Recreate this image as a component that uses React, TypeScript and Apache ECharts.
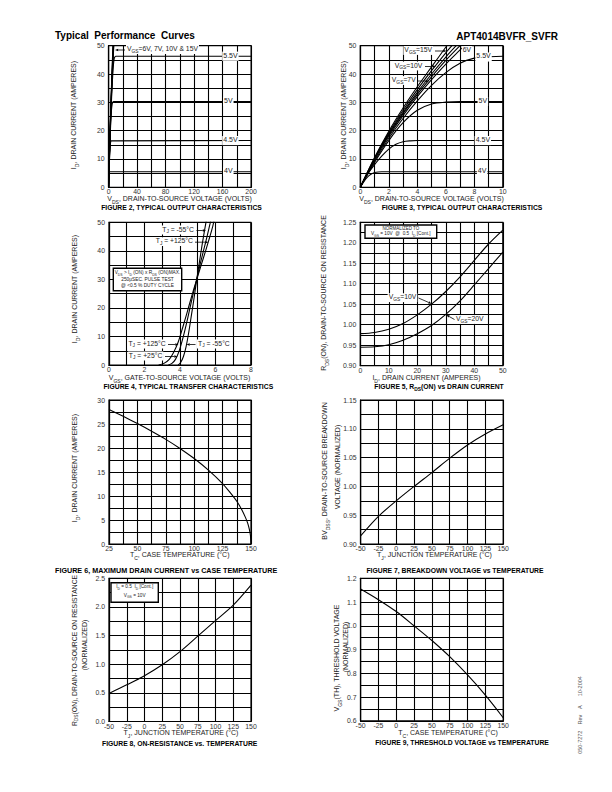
import React, { useEffect, useRef } from 'react';
import * as echarts from 'echarts';

const FONT = '"Liberation Sans", Arial, Helvetica, sans-serif';
const TXT = '#222';

// ---------- DATA ----------
// Fig 2 & 3 : output characteristics  [VDS (V), ID (A)]
const outVgs15 = [[0, 0], [1, 10.5], [2, 19.8], [3, 28], [4, 35.5], [5, 42.5], [6.07, 50]];
const outVgs10 = [[0, 0], [1, 10.3], [2, 19.3], [3, 27.2], [4, 34.5], [5, 41.2], [6, 47.5], [6.43, 50]];
const outVgs8 = [[0, 0], [1, 10.1], [2, 18.9], [3, 26.5], [4, 33.5], [5, 40], [6, 46], [6.73, 50]];
const outVgs7 = [[0, 0], [1, 10], [2, 18.5], [3, 26], [4, 32.8], [5, 39], [6, 44.8], [7, 50]];
const outVgs6 = [[0, 0], [1, 9.8], [2, 18], [3, 25.3], [4, 32], [5, 38], [6, 43.5], [7, 48.5], [7.3, 50]];
const outVgs55 = [[0, 0], [1, 9.3], [2, 17.3], [3, 24.3], [4, 30.5], [5, 36], [6, 40.5], [7, 43.8], [8, 45.6], [9, 46.1], [10, 46.3], [200, 46.3]];
const outVgs5 = [[0, 0], [1, 8.8], [2, 16.5], [3, 22.8], [4, 27.2], [5, 29.4], [6, 30.1], [7, 30.3], [200, 30.3]];
const outVgs45 = [[0, 0], [0.5, 4.5], [1, 8], [1.5, 11], [2, 13.5], [2.5, 15.2], [3, 16.1], [3.5, 16.4], [4, 16.5], [200, 16.5]];
const outVgs4 = [[0, 0], [0.25, 2], [0.5, 3.6], [0.75, 4.6], [1, 5.2], [1.5, 5.5], [200, 5.5]];

// Fig 4 : transfer characteristics [VGS (V), ID (A)]
const tjM55 = [[3.9, 0], [4.05, 1], [4.2, 3], [4.35, 6.5], [4.5, 11.5], [4.65, 17.5], [4.8, 23.5], [4.95, 30], [5.1, 36], [5.25, 42], [5.4, 47.5], [5.5, 51]];
const tj25 = [[3.35, 0], [3.55, 0.6], [3.75, 2], [3.95, 4.8], [4.15, 9], [4.35, 14], [4.55, 19.5], [4.75, 25], [4.95, 30], [5.15, 35.5], [5.35, 40.5], [5.55, 45.5], [5.7, 49.5], [5.75, 51]];
const tj125 = [[2.8, 0], [3.1, 0.6], [3.4, 2], [3.65, 4.5], [3.9, 8], [4.15, 13], [4.4, 18.3], [4.65, 23.8], [4.95, 30], [5.2, 35], [5.45, 40], [5.7, 45.2], [5.85, 48.5], [5.92, 50.5]];

// Fig 5 : RDS(on) vs ID
const rdsVgs10 = [[0, 0.978], [5, 0.981], [10, 0.989], [15, 1.003], [20, 1.024], [25, 1.05], [30, 1.081], [35, 1.117], [40, 1.157], [45, 1.197], [50, 1.231]];
const rdsVgs20 = [[0, 0.945], [5, 0.946], [10, 0.951], [15, 0.962], [20, 0.978], [25, 0.998], [30, 1.025], [35, 1.058], [40, 1.097], [45, 1.137], [50, 1.177]];

// Fig 6 : max drain current vs case temperature
const idMax = [[25, 28], [37.5, 26.6], [50, 25.1], [62.5, 23.5], [75, 21.8], [87.5, 19.9], [100, 17.8], [112.5, 15.4], [125, 12.6], [131, 10.9], [137.5, 8.9], [142, 7.1], [145, 5.6], [147, 4.4], [148.5, 3.1], [149.5, 1.8], [150, 0]];

// Fig 7 : breakdown voltage vs temperature
const bvdss = [[-50, 0.914], [-25, 0.948], [0, 0.975], [25, 1.0], [50, 1.024], [75, 1.049], [100, 1.072], [125, 1.091], [150, 1.107]];

// Fig 8 : on-resistance vs temperature
const rdsTemp = [[-50, 0.49], [-25, 0.64], [0, 0.8], [25, 0.99], [50, 1.22], [75, 1.49], [100, 1.76], [125, 2.03], [150, 2.38]];

// Fig 9 : threshold voltage vs temperature
const vthTemp = [[-50, 1.155], [-25, 1.11], [0, 1.06], [25, 1.0], [50, 0.938], [75, 0.87], [100, 0.793], [125, 0.708], [150, 0.613]];

// ---------- TICK LABELS ----------
const fig2XTicks = ['0', '40', '80', '120', '160', '200'];
const idYTicks = ['0', '10', '20', '30', '40', '50'];
const fig3XTicks = ['0', '2', '4', '6', '8', '10'];
const fig4XTicks = ['0', '2', '4', '6', '8'];
const fig5XTicks = ['0', '10', '20', '30', '40', '50'];
const fig5YTicks = ['0.90', '0.95', '1.00', '1.05', '1.10', '1.15', '1.20', '1.25'];
const fig6XTicks = ['25', '50', '75', '100', '125', '150'];
const fig6YTicks = ['0', '5', '10', '15', '20', '25', '30'];
const tempXTicks = ['-50', '-25', '0', '25', '50', '75', '100', '125', '150'];
const fig7YTicks = ['0.90', '0.95', '1.00', '1.05', '1.10', '1.15'];
const fig8YTicks = ['0.0', '0.5', '1.0', '1.5', '2.0', '2.5'];
const fig9YTicks = ['0.6', '0.7', '0.8', '0.9', '1.0', '1.1', '1.2'];

// ---------- LAYOUT ----------
const BOX = [
  { l: 108.6, t: 45.7, w: 142.5, h: 141.6 },
  { l: 360.3, t: 45.7, w: 142.5, h: 141.6 },
  { l: 109, t: 222.3, w: 141.8, h: 142.8 },
  { l: 360.3, t: 222.3, w: 142.5, h: 143.3 },
  { l: 109, t: 400, w: 142, h: 144 },
  { l: 360.6, t: 400, w: 142.6, h: 144 },
  { l: 109, t: 578.3, w: 142, h: 143.2 },
  { l: 360.6, t: 578.3, w: 142.6, h: 142.5 },
];
const AX = [
  { x0: 0, x1: 200, xi: 20, xt: fig2XTicks, y0: 0, y1: 50, yi: 5, yt: idYTicks },
  { x0: 0, x1: 10, xi: 1, xt: fig3XTicks, y0: 0, y1: 50, yi: 5, yt: idYTicks },
  { x0: 0, x1: 8, xi: 1, xt: fig4XTicks, y0: 0, y1: 50, yi: 5, yt: idYTicks },
  { x0: 0, x1: 50, xi: 5, xt: fig5XTicks, y0: 0.9, y1: 1.25, yi: 0.025, yt: fig5YTicks },
  { x0: 25, x1: 150, xi: 12.5, xt: fig6XTicks, y0: 0, y1: 30, yi: 2.5, yt: fig6YTicks },
  { x0: -50, x1: 150, xi: 25, xt: tempXTicks, y0: 0.9, y1: 1.15, yi: 0.025, yt: fig7YTicks },
  { x0: -50, x1: 150, xi: 25, xt: tempXTicks, y0: 0, y1: 2.5, yi: 0.25, yt: fig8YTicks },
  { x0: -50, x1: 150, xi: 25, xt: tempXTicks, y0: 0.6, y1: 1.2, yi: 0.05, yt: fig9YTicks },
];

const px = (g: number, x: number, y: number) => {
  const b = BOX[g];
  const a = AX[g];
  return [b.l + ((x - a.x0) / (a.x1 - a.x0)) * b.w, b.t + b.h - ((y - a.y0) / (a.y1 - a.y0)) * b.h];
};

const pick = (ticks: string[]) => (v: number) => {
  const f = ticks.find((t) => Math.abs(parseFloat(t) - v) < 1e-6);
  return f === undefined ? '' : f;
};

// ---------- TEXT HELPERS ----------
function toRich(s: string) {
  const parts = s.split(/_\{([^}]*)\}/);
  let out = '';
  parts.forEach((p, i) => {
    if (!p) return;
    out += i % 2 === 1 ? `{s|${p}}` : `{n|${p}}`;
  });
  return out;
}

type TOpt = { fs?: number; bold?: boolean; align?: string; va?: string; rot?: number; color?: string; bg?: string };
function T(x: number, y: number, s: string, o: TOpt = {}) {
  const fs = o.fs ?? 7;
  const color = o.color ?? TXT;
  const weight = o.bold ? 'bold' : 'normal';
  const style: any = {
    text: toRich(s),
    fill: color,
    fontSize: fs,
    fontFamily: FONT,
    fontWeight: weight,
    align: o.align ?? 'center',
    textAlign: o.align ?? 'center',
    verticalAlign: o.va ?? 'middle',
    textVerticalAlign: o.va ?? 'middle',
    rich: {
      n: { fontSize: fs, fontFamily: FONT, fontWeight: weight, fill: color, verticalAlign: 'top', lineHeight: fs * 1.3 },
      s: { fontSize: fs * 0.72, fontFamily: FONT, fontWeight: weight, fill: color, verticalAlign: 'bottom', lineHeight: fs * 0.5 },
    },
  };
  if (o.bg) {
    style.backgroundColor = o.bg;
    style.padding = [0, 1];
  }
  return { type: 'text', x, y, rotation: o.rot ?? 0, z: 100, style };
}

function arrow(x1: number, y1: number, x2: number, y2: number, size = 3.2) {
  const ang = Math.atan2(y2 - y1, x2 - x1);
  const bx = x2 - Math.cos(ang) * size;
  const by = y2 - Math.sin(ang) * size;
  const nx = -Math.sin(ang) * 1.3;
  const ny = Math.cos(ang) * 1.3;
  return [
    { type: 'line', z: 101, shape: { x1, y1, x2: bx, y2: by }, style: { stroke: '#000', lineWidth: 0.8 } },
    { type: 'polygon', z: 101, shape: { points: [[x2, y2], [bx + nx, by + ny], [bx - nx, by - ny]] }, style: { fill: '#000' } },
  ];
}

function box(x: number, y: number, w: number, h: number) {
  return { type: 'rect', z: 99, shape: { x, y, width: w, height: h }, style: { fill: '#fff', stroke: '#000', lineWidth: 1.4 } };
}

function buildOption() {
  const grid = BOX.map((b) => ({ left: b.l, top: b.t, width: b.w, height: b.h, show: true, borderColor: '#000', borderWidth: 1.2 }));
  const axisCommon = (g: number, isX: boolean) => {
    const a = AX[g];
    return {
      gridIndex: g,
      type: 'value',
      min: isX ? a.x0 : a.y0,
      max: isX ? a.x1 : a.y1,
      interval: isX ? a.xi : a.yi,
      axisLine: { show: true, onZero: false, lineStyle: { color: '#000', width: 1.2 } },
      axisTick: { show: false },
      splitLine: { show: true, lineStyle: { color: '#000', width: 1.1 } },
      axisLabel: {
        show: true,
        fontSize: 6.9,
        fontFamily: FONT,
        color: '#333',
        margin: isX ? 1 : 4,
        showMinLabel: true,
        showMaxLabel: true,
        hideOverlap: false,
        formatter: pick(isX ? a.xt : a.yt),
      },
    };
  };
  const xAxis = BOX.map((_, g) => axisCommon(g, true));
  const yAxis = BOX.map((_, g) => axisCommon(g, false));

  const line = (g: number, data: number[][], smooth: any = 0.3) => ({
    type: 'line',
    xAxisIndex: g,
    yAxisIndex: g,
    data,
    showSymbol: false,
    symbol: 'none',
    smooth,
    clip: true,
    silent: true,
    z: 3,
    lineStyle: { color: '#000', width: 1.1 },
  });

  const outCurves = [outVgs15, outVgs10, outVgs8, outVgs7, outVgs6, outVgs55, outVgs5, outVgs45, outVgs4];
  const series: any[] = [];
  [0, 1].forEach((g) => outCurves.forEach((c) => series.push(line(g, c, 0.3))));
  series.push(line(2, tjM55), line(2, tj25), line(2, tj125));
  series.push(line(3, rdsVgs10), line(3, rdsVgs20));
  series.push(line(4, idMax, 0.15));
  series.push(line(5, bvdss));
  series.push(line(6, rdsTemp));
  series.push(line(7, vthTemp));

  const g: any[] = [];
  const CAP = 6.8;
  // page headers
  g.push(T(55, 36.5, 'Typical  Performance  Curves', { fs: 10, bold: true, align: 'left', color: '#000' }));
  g.push(T(558, 37.5, 'APT4014BVFR_SVFR', { fs: 10, bold: true, align: 'right', color: '#000' }));
  g.push(T(581, 715, '050-7272    Rev    A      10-2004', { fs: 5.5, rot: Math.PI / 2, color: '#555' }));

  // captions
  g.push(T(181.5, 208, 'FIGURE 2, TYPICAL OUTPUT CHARACTERISTICS', { fs: CAP, bold: true, color: '#000' }));
  g.push(T(462, 208, 'FIGURE 3, TYPICAL OUTPUT CHARACTERISTICS', { fs: CAP, bold: true, color: '#000' }));
  g.push(T(188.3, 387.7, 'FIGURE 4, TYPICAL TRANSFER CHARACTERISTICS', { fs: CAP, bold: true, color: '#000' }));
  g.push(T(439, 387.7, 'FIGURE 5, R_{DS}(ON) vs DRAIN CURRENT', { fs: CAP, bold: true, color: '#000' }));
  g.push(T(55, 571.5, 'FIGURE 6, MAXIMUM DRAIN CURRENT vs CASE TEMPERATURE', { fs: 7.2, bold: true, color: '#000', align: 'left' }));
  g.push(T(455, 571.5, 'FIGURE 7, BREAKDOWN VOLTAGE vs TEMPERATURE', { fs: CAP, bold: true, color: '#000' }));
  g.push(T(179.7, 744, 'FIGURE 8, ON-RESISTANCE vs. TEMPERATURE', { fs: CAP, bold: true, color: '#000' }));
  g.push(T(462, 743, 'FIGURE 9, THRESHOLD VOLTAGE vs TEMPERATURE', { fs: CAP, bold: true, color: '#000' }));

  // x-axis titles
  g.push(T(179.5, 199.5, 'V_{DS}, DRAIN-TO-SOURCE VOLTAGE (VOLTS)'));
  g.push(T(431.5, 199.5, 'V_{DS}, DRAIN-TO-SOURCE VOLTAGE (VOLTS)'));
  g.push(T(179.5, 378.8, 'V_{GS}, GATE-TO-SOURCE VOLTAGE (VOLTS)'));
  g.push(T(426.5, 378.8, 'I_{D}, DRAIN CURRENT (AMPERES)'));
  g.push(T(179.7, 556, 'T_{C}, CASE TEMPERATURE (°C)'));
  g.push(T(434.5, 556, 'T_{J}, JUNCTION TEMPERATURE (°C)'));
  g.push(T(181, 733.8, 'T_{J}, JUNCTION TEMPERATURE (°C)'));
  g.push(T(448, 733.8, 'T_{C}, CASE TEMPERATURE (°C)'));

  // y-axis titles (rotated)
  const R = Math.PI / 2;
  g.push(T(75, 115, 'I_{D}, DRAIN CURRENT (AMPERES)', { rot: R }));
  g.push(T(345, 115, 'I_{D}, DRAIN CURRENT (AMPERES)', { rot: R }));
  g.push(T(76, 289, 'I_{D}, DRAIN CURRENT (AMPERES)', { rot: R }));
  g.push(T(325, 293, 'R_{DS}(ON), DRAIN-TO-SOURCE ON RESISTANCE', { rot: R }));
  g.push(T(76, 468, 'I_{D}, DRAIN CURRENT (AMPERES)', { rot: R }));
  g.push(T(326, 471, 'BV_{DSS}, DRAIN-TO-SOURCE BREAKDOWN', { rot: R }));
  g.push(T(338.5, 467, 'VOLTAGE (NORMALIZED)', { rot: R }));
  g.push(T(75, 650.5, 'R_{DS}(ON), DRAIN-TO-SOURCE ON RESISTANCE', { rot: R, fs: 6.8 }));
  g.push(T(85.5, 645, '(NORMALIZED)', { rot: R }));
  g.push(T(338, 658, 'V_{GS}(TH), THRESHOLD VOLTAGE', { rot: R }));
  g.push(T(347, 647, '(NORMALIZED)', { rot: R }));

  // Fig 2 annotations
  g.push(T(126, 49.5, 'V_{GS}=6V, 7V, 10V & 15V', { align: 'left', fs: 6.8, bg: '#fff' }));
  g.push(...arrow(125, 50, 115, 50));
  {
    const a = px(0, 171, 46.3); g.push(T(a[0], a[1], '5.5V', { bg: '#fff' }));
    const b = px(0, 168, 30.3); g.push(T(b[0], b[1], '5V', { bg: '#fff' }));
    const c = px(0, 171, 16.5); g.push(T(c[0], c[1], '4.5V', { bg: '#fff' }));
    const d = px(0, 168, 5.5); g.push(T(d[0], d[1], '4V', { bg: '#fff' }));
  }
  // Fig 3 annotations
  g.push(T(433, 50.5, 'V_{GS}=15V', { align: 'right', fs: 6.8, bg: '#fff' }));
  g.push(...arrow(435, 51, 446.5, 51));
  g.push(T(423.3, 66, 'V_{GS}=10V', { align: 'right', fs: 6.8, bg: '#fff' }));
  g.push(...arrow(425, 66.5, 436, 66.5));
  g.push(T(416.7, 80.5, 'V_{GS}=7V', { align: 'right', fs: 6.8, bg: '#fff' }));
  g.push(...arrow(418, 81, 429, 81));
  g.push(T(467, 50.5, '6V', { bg: '#fff', fs: 6.8 }));
  {
    const a = px(1, 8.65, 46); g.push(T(a[0], a[1], '5.5V', { bg: '#fff' }));
    const b = px(1, 8.6, 30.3); g.push(T(b[0], b[1], '5V', { bg: '#fff' }));
    const c = px(1, 8.6, 16.5); g.push(T(c[0], c[1], '4.5V', { bg: '#fff' }));
    const d = px(1, 8.55, 5.5); g.push(T(d[0], d[1], '4V', { bg: '#fff' }));
  }
  // Fig 4 annotations
  g.push(T(195, 230, 'T_{J} = -55°C', { align: 'right', fs: 6.8, bg: '#fff' }));
  g.push(...arrow(196.5, 230.5, 206, 230.5));
  g.push(T(194, 241.7, 'T_{J} = +125°C', { align: 'right', fs: 6.8, bg: '#fff' }));
  g.push(...arrow(195, 242.2, 208.5, 242.2));
  g.push(box(113.3, 268.3, 68.4, 22.4));
  g.push(T(147.5, 273, 'V_{DS} > I_{D} (ON) x R_{DS} (ON)MAX.', { fs: 4.8 }));
  g.push(T(147.5, 280, '250μSEC. PULSE TEST', { fs: 4.8 }));
  g.push(T(147.5, 286.5, '@ <0.5 % DUTY CYCLE', { fs: 4.8 }));
  g.push(T(166.7, 344, 'T_{J} = +125°C', { align: 'right', fs: 6.8, bg: '#fff' }));
  g.push(...arrow(168, 344.5, 178.5, 344.5));
  g.push(T(197, 344, 'T_{J} = -55°C', { align: 'left', fs: 6.8, bg: '#fff' }));
  g.push(...arrow(195.5, 344.5, 186.5, 344.5));
  g.push(T(163.3, 356, 'T_{J} = +25°C', { align: 'right', fs: 6.8, bg: '#fff' }));
  g.push(...arrow(165, 356.5, 177.5, 356.5));
  // Fig 5 annotations
  g.push(box(365, 225, 71.7, 13.3));
  g.push(T(400.8, 228.8, 'NORMALIZED TO', { fs: 4.5 }));
  g.push(T(400.8, 234.4, 'V_{GS} = 10V  @  0.5  I_{D} [Cont.]', { fs: 4.7 }));
  g.push(T(417.3, 297.7, 'V_{GS}=10V', { align: 'right', fs: 6.8, bg: '#fff' }));
  {
    const p = px(3, 25, 1.05);
    g.push(...arrow(418.5, 298, p[0], p[1] - 0.5));
    const q = px(3, 30, 1.025);
    g.push(T(455, 319.5, 'V_{GS}=20V', { align: 'left', fs: 6.8, bg: '#fff' }));
    g.push(...arrow(454.5, 319.5, q[0] + 0.5, q[1] + 0.5));
  }
  // Fig 8 annotation box
  g.push(box(111, 582.7, 47.3, 19.6));
  g.push(T(134.7, 587.5, 'I_{D} = 0.5  I_{D} [Cont.]', { fs: 4.7 }));
  g.push(T(134.7, 595.8, 'V_{GS} = 10V', { fs: 4.7 }));

  return {
    animation: false,
    backgroundColor: '#fff',
    grid,
    xAxis,
    yAxis,
    series,
    graphic: { elements: g },
  };
}

export default function App() {
  const ref = useRef<HTMLDivElement>(null);
  useEffect(() => {
    const chart = echarts.init(ref.current as HTMLDivElement, null, { renderer: 'svg' });
    chart.setOption(buildOption() as any);
    return () => chart.dispose();
  }, []);
  return (
    <div
      ref={ref}
      style={{ position: 'absolute', left: 0, top: 0, width: 612, height: 792, background: '#fff' }}
    />
  );
}
